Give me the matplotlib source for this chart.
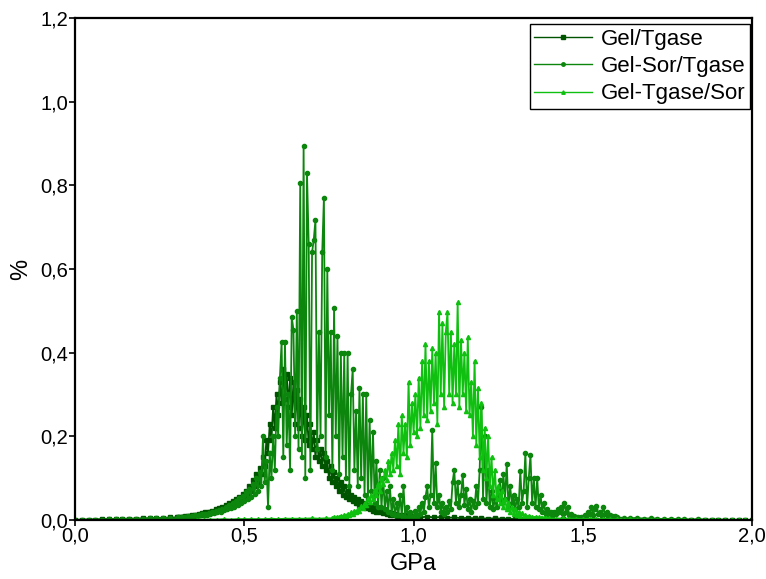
"""
    三条压力分布曲线 (Gel/Tgase, Gel-Sor/Tgase, Gel-Tgase/Sor)
"""
import numpy as np
import matplotlib
matplotlib.use("Agg")
from matplotlib import pyplot as plt
from matplotlib.ticker import FuncFormatter

plt.rcParams['font.family'] = ['Liberation Sans', 'DejaVu Sans']

# ---------------- Gel/Tgase ----------------
gt_x = np.concatenate([np.arange(0.0, 0.2999, 0.02),
                       np.arange(0.30, 0.9999, 0.005),
                       np.arange(1.0, 2.0001, 0.02)])
gt_y = [
    0.0, 0.001, 0.001, 0.001, 0.002, 0.002, 0.002, 0.003, 0.003, 0.003, 0.004, 0.004, 0.005, 0.005, 0.006,
    0.006, 0.007, 0.006, 0.008, 0.007, 0.009, 0.008, 0.010, 0.009, 0.011,
    0.010, 0.012, 0.011, 0.014, 0.012, 0.016, 0.014, 0.018, 0.016, 0.020,
    0.018, 0.022, 0.020, 0.025, 0.022, 0.028, 0.025, 0.032, 0.028, 0.036,
    0.032, 0.040, 0.036, 0.045, 0.040, 0.050, 0.045, 0.056, 0.050, 0.063,
    0.056, 0.070, 0.062, 0.080, 0.070, 0.095, 0.080, 0.110, 0.090, 0.125,
    0.110, 0.150, 0.130, 0.190, 0.160, 0.230, 0.190, 0.270, 0.220, 0.300,
    0.250, 0.330, 0.280, 0.360, 0.290, 0.350, 0.270, 0.340, 0.250, 0.330,
    0.230, 0.310, 0.220, 0.290, 0.200, 0.270, 0.190, 0.250, 0.180, 0.230,
    0.170, 0.210, 0.150, 0.190, 0.140, 0.170, 0.130, 0.160, 0.120, 0.140,
    0.100, 0.130, 0.090, 0.115, 0.080, 0.100, 0.070, 0.090, 0.060, 0.080,
    0.055, 0.070, 0.050, 0.060, 0.045, 0.055, 0.040, 0.050, 0.035, 0.045,
    0.030, 0.040, 0.028, 0.035, 0.025, 0.032, 0.022, 0.028, 0.020, 0.025,
    0.018, 0.022, 0.016, 0.020, 0.014, 0.018, 0.013, 0.016, 0.012, 0.015,
    0.010, 0.013, 0.009, 0.012, 0.008, 0.011, 0.008, 0.010, 0.007, 0.009,
    0.007, 0.006, 0.008, 0.006, 0.007, 0.005, 0.006, 0.004, 0.005, 0.004,
    0.004, 0.003, 0.004, 0.003, 0.003, 0.002, 0.003, 0.002, 0.002, 0.002,
    0.002, 0.001, 0.002, 0.001, 0.001, 0.001, 0.001, 0.001, 0.001, 0.001,
    0.001, 0.0, 0.001, 0.0, 0.0, 0.0, 0.0, 0.0, 0.0, 0.0,
    0.0, 0.0, 0.0, 0.0, 0.0, 0.0, 0.0, 0.0, 0.0, 0.0, 0.0,
]

# ---------------- Gel-Sor/Tgase ----------------
gst_x = np.concatenate([np.arange(0.0, 0.2999, 0.02),
                        np.arange(0.30, 1.5975, 0.005),
                        np.arange(1.60, 2.0001, 0.02)])
gst_y = [
    0.0, 0.0, 0.001, 0.001, 0.001, 0.002, 0.002, 0.002, 0.003, 0.003, 0.003, 0.004, 0.004, 0.005, 0.004,
    0.004, 0.006, 0.005, 0.007, 0.006, 0.008, 0.007, 0.009, 0.008, 0.010,
    0.009, 0.011, 0.010, 0.012, 0.011, 0.014, 0.012, 0.015, 0.013, 0.017,
    0.015, 0.019, 0.016, 0.021, 0.018, 0.024, 0.020, 0.027, 0.023, 0.031,
    0.026, 0.035, 0.028, 0.040, 0.032, 0.046, 0.036, 0.052, 0.040, 0.058,
    0.045, 0.066, 0.050, 0.075, 0.056, 0.085, 0.062, 0.100, 0.070, 0.115,
    0.080, 0.200, 0.090, 0.140, 0.030, 0.160, 0.100, 0.200, 0.120, 0.270,
    0.200, 0.340, 0.425, 0.150, 0.425, 0.180, 0.300, 0.120, 0.485, 0.455,
    0.200, 0.500, 0.170, 0.806, 0.150, 0.893, 0.100, 0.830, 0.660, 0.120,
    0.640, 0.670, 0.717, 0.170, 0.450, 0.200, 0.640, 0.770, 0.150, 0.600,
    0.250, 0.450, 0.120, 0.507, 0.200, 0.440, 0.110, 0.400, 0.150, 0.400,
    0.100, 0.400, 0.080, 0.300, 0.360, 0.120, 0.260, 0.080, 0.315, 0.100,
    0.300, 0.060, 0.300, 0.050, 0.240, 0.070, 0.210, 0.040, 0.140, 0.030,
    0.120, 0.030, 0.100, 0.025, 0.070, 0.020, 0.080, 0.015, 0.050, 0.012,
    0.040, 0.012, 0.060, 0.010, 0.080, 0.008, 0.030, 0.008, 0.020, 0.006,
    0.010, 0.022, 0.008, 0.030, 0.015, 0.040, 0.020, 0.055, 0.080, 0.030,
    0.060, 0.215, 0.040, 0.135, 0.030, 0.060, 0.020, 0.040, 0.015, 0.030,
    0.020, 0.045, 0.025, 0.090, 0.120, 0.040, 0.090, 0.030, 0.060, 0.107,
    0.035, 0.073, 0.025, 0.050, 0.020, 0.045, 0.030, 0.080, 0.040, 0.120,
    0.270, 0.050, 0.200, 0.040, 0.120, 0.030, 0.070, 0.025, 0.050, 0.030,
    0.060, 0.095, 0.040, 0.110, 0.050, 0.134, 0.030, 0.080, 0.040, 0.060,
    0.025, 0.050, 0.030, 0.117, 0.040, 0.070, 0.160, 0.030, 0.100, 0.155,
    0.040, 0.100, 0.030, 0.100, 0.025, 0.060, 0.020, 0.040, 0.015, 0.025,
    0.012, 0.020, 0.010, 0.018, 0.015, 0.025, 0.020, 0.030, 0.015, 0.040,
    0.020, 0.030, 0.012, 0.015, 0.008, 0.010, 0.006, 0.008, 0.005, 0.008,
    0.006, 0.012, 0.010, 0.020, 0.015, 0.030, 0.012, 0.025, 0.034, 0.015,
    0.020, 0.010, 0.030, 0.015, 0.020, 0.008, 0.012, 0.010, 0.006, 0.010,
    0.006, 0.005, 0.004, 0.005, 0.003, 0.004, 0.003, 0.002, 0.003, 0.002,
    0.002, 0.001, 0.002, 0.001, 0.001, 0.001, 0.001, 0.0, 0.001, 0.0, 0.0,
]

# ---------------- Gel-Tgase/Sor ----------------
gts_x = np.concatenate([np.arange(0.36, 0.7599, 0.02),
                        np.arange(0.76, 1.3975, 0.005),
                        np.arange(1.40, 2.0001, 0.02)])
gts_y = [
    0.001, 0.001, 0.001, 0.001, 0.002, 0.001, 0.002, 0.002, 0.002, 0.002,
    0.002, 0.003, 0.002, 0.003, 0.003, 0.003, 0.003, 0.004, 0.003, 0.004,
    0.004, 0.006, 0.005, 0.008, 0.006, 0.010, 0.008, 0.012, 0.010, 0.015,
    0.012, 0.018, 0.015, 0.022, 0.018, 0.027, 0.022, 0.033, 0.028, 0.040,
    0.035, 0.050, 0.042, 0.060, 0.050, 0.072, 0.060, 0.085, 0.070, 0.100,
    0.085, 0.120, 0.095, 0.140, 0.110, 0.160, 0.120, 0.190, 0.130, 0.230,
    0.110, 0.250, 0.160, 0.230, 0.150, 0.330, 0.180, 0.280, 0.210, 0.300,
    0.200, 0.340, 0.220, 0.380, 0.250, 0.420, 0.240, 0.380, 0.260, 0.410,
    0.280, 0.400, 0.230, 0.497, 0.300, 0.470, 0.270, 0.450, 0.497, 0.300,
    0.450, 0.280, 0.420, 0.300, 0.520, 0.270, 0.430, 0.300, 0.400, 0.260,
    0.437, 0.250, 0.330, 0.200, 0.380, 0.180, 0.315, 0.150, 0.280, 0.120,
    0.220, 0.100, 0.200, 0.080, 0.150, 0.060, 0.120, 0.050, 0.080, 0.040,
    0.070, 0.030, 0.050, 0.025, 0.040, 0.020, 0.030, 0.015, 0.025, 0.012,
    0.020, 0.010, 0.016, 0.008, 0.013, 0.007, 0.010, 0.006, 0.008, 0.005,
    0.007, 0.005, 0.006, 0.004, 0.005, 0.004, 0.005, 0.003,
    0.004, 0.003, 0.004, 0.003, 0.003, 0.002, 0.003, 0.002, 0.002, 0.002,
    0.002, 0.001, 0.002, 0.001, 0.001, 0.001, 0.001, 0.001, 0.001, 0.001,
    0.001, 0.0, 0.001, 0.0, 0.0, 0.0, 0.0, 0.0, 0.0, 0.0, 0.0,
]

x_ticks = [0.0, 0.5, 1.0, 1.5, 2.0]
y_ticks = [0.0, 0.2, 0.4, 0.6, 0.8, 1.0, 1.2]

fig = plt.figure(figsize=(7.66, 5.79), dpi=100)
ax = fig.add_axes([0.098, 0.102, 0.884, 0.867])

ax.plot(gt_x, gt_y, color="#005400", lw=1.3, marker="s", ms=2.6, label="Gel/Tgase")
ax.plot(gst_x, gst_y, color="#0c860c", lw=1.3, marker="o", ms=3.0, label="Gel-Sor/Tgase")
ax.plot(gts_x, gts_y, color="#10c010", lw=1.3, marker="^", ms=3.0, label="Gel-Tgase/Sor")

ax.set_xlim(0, 2.0)
ax.set_ylim(0, 1.2)
ax.set_xticks(x_ticks)
ax.set_yticks(y_ticks)
# 小数点用逗号
comma = FuncFormatter(lambda v, p: "{:.1f}".format(v).replace(".", ","))
ax.xaxis.set_major_formatter(comma)
ax.yaxis.set_major_formatter(comma)
ax.tick_params(axis="both", labelsize=14.5, direction="out", length=4, width=1.2, pad=1)

for s in ax.spines.values():
    s.set_linewidth(1.6)

ax.set_xlabel("GPa", fontsize=17, labelpad=5)
ax.set_ylabel("%", fontsize=17, labelpad=6)

leg = ax.legend(loc="upper right", bbox_to_anchor=(0.997, 0.987), fontsize=16,
                frameon=True, fancybox=False, edgecolor="black", framealpha=1,
                handlelength=2.6, borderpad=0.2, labelspacing=0.28, handletextpad=0.4,
                borderaxespad=0.0)
leg.get_frame().set_linewidth(1.0)
for h in leg.get_lines():
    h.set_linewidth(1.0)
    h.set_markersize(2.5)

fig.savefig("out.png", dpi=100)
